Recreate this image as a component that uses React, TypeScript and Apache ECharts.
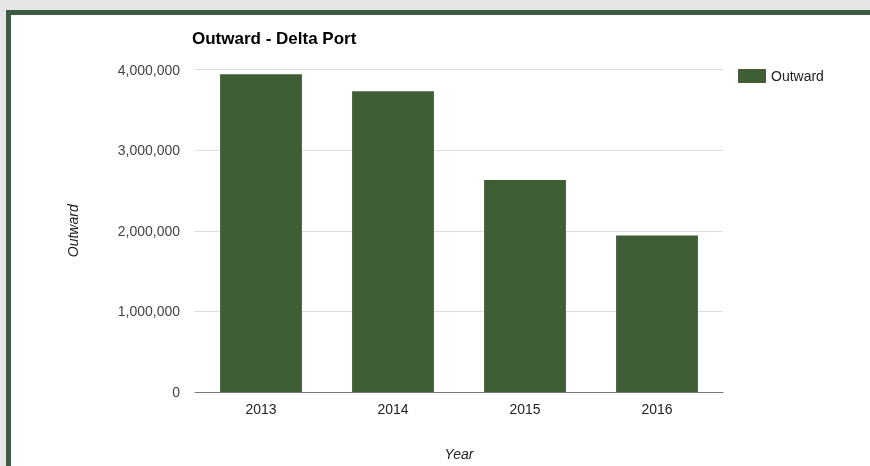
import React, { useEffect, useRef } from "react";
import * as echarts from "echarts";

const categories = ["2013", "2014", "2015", "2016"];
const outwardValues = [3940000, 3730000, 2630000, 1940000];
const yTicks = [0, 1000000, 2000000, 3000000, 4000000];

const FONT = "'Liberation Sans', Arial, sans-serif";

export default function App() {
  const ref = useRef<HTMLDivElement>(null);
  useEffect(() => {
    const chart = echarts.init(ref.current!, null, { renderer: "svg" });
    chart.setOption({
      animation: false,
      textStyle: { fontFamily: FONT },
      graphic: [
        { type: "rect", z: -10, shape: { x: 0, y: 0, width: 870, height: 466 }, style: { fill: "#e4e6e8" } },
        { type: "rect", z: -9, shape: { x: 6, y: 10, width: 864, height: 456 }, style: { fill: "#3e5b44" } },
        { type: "rect", z: -8, shape: { x: 11, y: 15, width: 859, height: 451 }, style: { fill: "#ffffff" } },
      ],
      title: {
        text: "Outward - Delta Port",
        left: 192,
        top: 30,
        padding: 0,
        textStyle: { fontFamily: FONT, fontSize: 17, fontWeight: "bold", color: "#000" },
      },
      legend: {
        left: 738,
        top: 69,
        padding: 0,
        itemWidth: 28,
        itemHeight: 14,
        icon: "rect",
        textStyle: { fontFamily: FONT, fontSize: 14, color: "#222" },
        data: ["Outward"],
      },
      grid: { left: 195, right: 147, top: 69.5, bottom: 70.5, containLabel: false },
      xAxis: {
        type: "category",
        data: categories,
        name: "Year",
        nameLocation: "middle",
        nameGap: 55,
        nameTextStyle: { fontFamily: FONT, fontSize: 14, fontStyle: "italic", color: "#222", verticalAlign: "top" },
        axisLine: { lineStyle: { color: "#777", width: 1 } },
        axisTick: { show: false },
        axisLabel: { fontFamily: FONT, fontSize: 14, color: "#222", margin: 10 },
      },
      yAxis: {
        type: "value",
        min: yTicks[0],
        max: yTicks[yTicks.length - 1],
        interval: 1000000,
        name: "Outward",
        nameLocation: "middle",
        nameGap: 115,
        nameTextStyle: { fontFamily: FONT, fontSize: 14, fontStyle: "italic", color: "#222" },
        axisLine: { show: false },
        axisTick: { show: false },
        splitLine: { lineStyle: { color: "#dddddd", width: 1 } },
        axisLabel: {
          fontFamily: FONT,
          fontSize: 14,
          color: "#444",
          margin: 15,
          formatter: (v: number) => v.toLocaleString("en-US"),
        },
      },
      series: [
        {
          name: "Outward",
          type: "bar",
          data: outwardValues,
          barWidth: "62%",
          itemStyle: { color: "#405e35" },
        },
      ],
    });
    return () => chart.dispose();
  }, []);
  return (
    <div
      ref={ref}
      style={{ position: "fixed", left: 0, top: 0, width: 870, height: 466 }}
    />
  );
}
